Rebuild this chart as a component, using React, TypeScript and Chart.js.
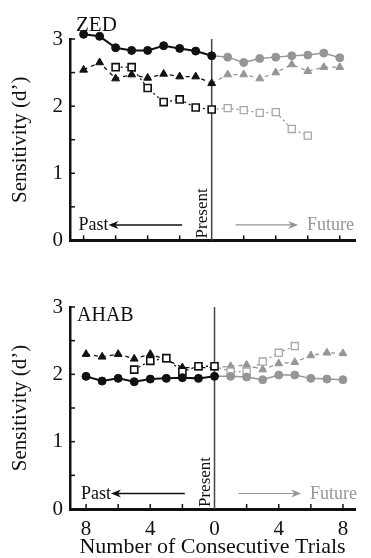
import React, { useEffect, useRef } from "react";
import { Chart, registerables } from "chart.js";
Chart.register(...registerables);

const FONT = "Liberation Serif";
Chart.defaults.font.family = FONT;
const INK = "#111";
const GRAY = "#969696";

const xPast = [-8, -7, -6, -5, -4, -3, -2, -1, 0];
const xFuture = [1, 2, 3, 4, 5, 6, 7, 8];
const xTickLabels = [-8, -4, 0, 4, 8];
const yTickLabels = [0, 1, 2, 3];

// ZED
const zedCirclePast = [3.07, 3.04, 2.87, 2.83, 2.83, 2.9, 2.86, 2.82, 2.75];
const zedCircleFuture = [2.73, 2.65, 2.71, 2.73, 2.75, 2.76, 2.79, 2.72];
const zedTrianglePast = [2.54, 2.65, 2.41, 2.47, 2.42, 2.48, 2.44, 2.44, 2.34];
const zedTriangleFuture = [2.47, 2.47, 2.41, 2.5, 2.62, 2.52, 2.58, 2.58];
const zedSquarePast = [null, null, 2.58, 2.58, 2.27, 2.06, 2.1, 1.98, 1.95];
const zedSquareFuture = [1.97, 1.94, 1.9, 1.91, 1.66, 1.56, null, null];

// AHAB
const ahabCirclePast = [1.97, 1.9, 1.94, 1.89, 1.93, 1.94, 1.95, 1.94, 1.97];
const ahabCircleFuture = [1.97, 1.96, 1.92, 1.99, 1.99, 1.94, 1.93, 1.92];
const ahabTrianglePast = [2.3, 2.26, 2.3, 2.23, 2.3, 2.22, 2.1, 2.1, 2.1];
const ahabTriangleFuture = [2.12, 2.14, 2.07, 2.16, 2.18, 2.28, 2.32, 2.31];
const ahabSquarePast = [null, null, null, 2.07, 2.2, 2.24, 2.04, 2.12, 2.12];
const ahabSquareFuture = [2.04, 2.04, 2.19, 2.32, 2.42, null, null, null];

type V = (number | null)[];

function xy(xs: number[], ys: V) {
  const out: { x: number; y: number }[] = [];
  xs.forEach((x, i) => {
    const y = ys[i];
    if (y !== null && y !== undefined) out.push({ x, y });
  });
  return out;
}

function lastOf(ys: V) {
  for (let i = ys.length - 1; i >= 0; i--) if (ys[i] != null) return ys[i] as number;
  return 0;
}

function series(past: V, future: V, style: "circle" | "triangle" | "rect") {
  const base: any = {
    circle: { pointStyle: "circle", radius: 4, dash: [], width: 2 },
    triangle: { pointStyle: "triangle", radius: 4.5, dash: [4, 4], width: 1.3 },
    rect: { pointStyle: "rect", radius: 5, dash: [2, 3], width: 1.3 },
  }[style];
  const open = style === "rect";
  const ord = style === "circle" ? 0 : style === "triangle" ? 2 : 1;
  const pastDs = {
    data: xy(xPast, past),
    borderColor: INK,
    backgroundColor: open ? "#fff" : INK,
    pointBorderColor: INK,
    pointBackgroundColor: open ? "#fff" : INK,
    pointStyle: base.pointStyle,
    pointRadius: base.radius,
    pointBorderWidth: open ? 1.6 : 1,
    borderWidth: base.width,
    borderDash: base.dash,
    clip: false,
    order: ord,
  };
  const futureDs = {
    data: [{ x: 0, y: lastOf(past) }, ...xy(xFuture, future)],
    borderColor: GRAY,
    backgroundColor: open ? "#fff" : GRAY,
    pointBorderColor: open ? "#a8a8a8" : GRAY,
    pointBackgroundColor: open ? "#fff" : GRAY,
    pointStyle: base.pointStyle,
    pointRadius: (c: any) => (c.dataIndex === 0 ? 0 : base.radius),
    pointBorderWidth: open ? 1.3 : 1,
    borderWidth: style === "circle" ? 1.5 : base.width,
    borderDash: base.dash,
    clip: false,
    order: ord + 3,
  };
  return [futureDs, pastDs];
}

function drawArrow(ctx: CanvasRenderingContext2D, x1: number, x2: number, y: number, color: string, left: boolean) {
  ctx.save();
  ctx.strokeStyle = color;
  ctx.fillStyle = color;
  ctx.lineWidth = left ? 1.6 : 1.2;
  const tip = left ? x1 : x2;
  const dir = left ? 1 : -1;
  ctx.beginPath();
  ctx.moveTo(left ? x1 + 4 : x1, y);
  ctx.lineTo(left ? x2 : x2 - 4, y);
  ctx.stroke();
  ctx.beginPath();
  ctx.moveTo(tip, y);
  ctx.lineTo(tip + dir * 10, y - 4);
  ctx.lineTo(tip + dir * 7, y);
  ctx.lineTo(tip + dir * 10, y + 4);
  ctx.closePath();
  ctx.fill();
  ctx.restore();
}

function decorations(label: string, labelSize: number, labelAbove: boolean) {
  return {
    id: "decor",
    beforeDatasetsDraw(chart: any) {
      const { ctx } = chart;
      const xs = chart.scales.x;
      const ys = chart.scales.y;
      const px = xs.getPixelForValue(0);
      ctx.save();
      ctx.strokeStyle = "#444";
      ctx.lineWidth = 1.5;
      ctx.beginPath();
      ctx.moveTo(px, ys.getPixelForValue(3));
      ctx.lineTo(px, ys.getPixelForValue(0));
      ctx.stroke();
      ctx.restore();
    },
    afterDraw(chart: any) {
      const { ctx, chartArea } = chart;
      const xs = chart.scales.x;
      const ys = chart.scales.y;
      const y0 = ys.getPixelForValue(0);
      const xl = chartArea.left;
      ctx.save();
      ctx.strokeStyle = INK;
      ctx.lineWidth = 1.5;
      [0.5, 1, 1.5, 2, 2.5, 3].forEach((v) => {
        const p = ys.getPixelForValue(v);
        ctx.beginPath();
        ctx.moveTo(xl, p);
        ctx.lineTo(xl + 5, p);
        ctx.stroke();
      });
      [-8, -6, -4, -2, 2, 4, 6, 8].forEach((v) => {
        const p = xs.getPixelForValue(v);
        ctx.beginPath();
        ctx.moveTo(p, y0);
        ctx.lineTo(p, y0 - 5);
        ctx.stroke();
      });
      ctx.fillStyle = INK;
      ctx.font = `${labelSize}px ${FONT}`;
      ctx.textAlign = "left";
      ctx.textBaseline = "alphabetic";
      if (labelAbove) ctx.fillText(label, xl + 6, chartArea.top - 8);
      else ctx.fillText(label, xl + 7, chartArea.top + 14);
      const ay = ys.getPixelForValue(0.23);
      const ty = ys.getPixelForValue(0.15);
      ctx.font = `18px ${FONT}`;
      ctx.textAlign = "right";
      ctx.fillStyle = INK;
      const pastEnd = xs.getPixelForValue(-6.45);
      ctx.fillText("Past", pastEnd, ty);
      drawArrow(ctx, pastEnd, xs.getPixelForValue(-1.85), ay, INK, true);
      drawArrow(ctx, xs.getPixelForValue(1.5), xs.getPixelForValue(5.4), ay, GRAY, false);
      ctx.textAlign = "left";
      ctx.fillStyle = GRAY;
      ctx.fillText("Future", xs.getPixelForValue(5.95), ty);
      ctx.save();
      ctx.translate(xs.getPixelForValue(0) - 5, y0 - 2);
      ctx.rotate(-Math.PI / 2);
      ctx.font = `17px ${FONT}`;
      ctx.fillStyle = INK;
      ctx.textAlign = "left";
      ctx.textBaseline = "alphabetic";
      ctx.fillText("Present", 0, 0);
      ctx.restore();
      ctx.restore();
    },
  };
}

type Panel = {
  label: string;
  labelSize: number;
  labelAbove: boolean;
  circlePast: V;
  circleFuture: V;
  trianglePast: V;
  triangleFuture: V;
  squarePast: V;
  squareFuture: V;
  xMin: number;
  xMax: number;
  showX: boolean;
  height: number;
  padTop: number;
  xAxisH: number;
};

function PanelChart({ p }: { p: Panel }) {
  const ref = useRef<HTMLCanvasElement | null>(null);
  useEffect(() => {
    if (!ref.current) return;
    const datasets = [
      ...series(p.squarePast, p.squareFuture, "rect"),
      ...series(p.trianglePast, p.triangleFuture, "triangle"),
      ...series(p.circlePast, p.circleFuture, "circle"),
    ];
    const chart = new Chart(ref.current, {
      type: "line",
      data: { datasets: datasets as any },
      options: {
        responsive: false,
        animation: false,
        events: [],
        layout: { padding: { top: p.padTop, right: 16, left: 0, bottom: 0 } },
        plugins: { legend: { display: false }, tooltip: { enabled: false } },
        scales: {
          x: {
            type: "linear",
            min: p.xMin,
            max: p.xMax,
            afterFit: (s: any) => {
              s.height = p.xAxisH;
            },
            afterBuildTicks: (s: any) => {
              s.ticks = xTickLabels.map((v) => ({ value: v }));
            },
            grid: { display: false, drawTicks: false },
            border: { display: true, color: INK, width: 3 },
            ticks: {
              display: p.showX,
              autoSkip: false,
              maxRotation: 0,
              padding: 8,
              color: INK,
              font: { family: FONT, size: 21 },
              callback: (v: any) => String(Math.abs(Number(v))),
            },
            title: {
              display: p.showX,
              text: "Number of Consecutive Trials",
              color: INK,
              font: { family: FONT, size: 22, lineHeight: 1 },
              padding: { top: 0, bottom: 0 },
            },
          },
          y: {
            min: 0,
            max: 3,
            afterFit: (s: any) => {
              s.width = 70;
            },
            afterBuildTicks: (s: any) => {
              s.ticks = yTickLabels.map((v) => ({ value: v }));
            },
            grid: { display: false, drawTicks: false },
            border: { display: true, color: INK, width: 2.5 },
            ticks: {
              padding: 7,
              color: INK,
              font: { family: FONT, size: 21 },
            },
            title: {
              display: true,
              text: "Sensitivity (d\u2019)",
              color: INK,
              font: { family: FONT, size: 21, lineHeight: 1 },
              padding: { top: 9.5, bottom: 0 },
            },
          },
        },
      } as any,
      plugins: [decorations(p.label, p.labelSize, p.labelAbove) as any],
    });
    return () => chart.destroy();
  }, [p]);
  return <canvas ref={ref} width={371} height={p.height} style={{ display: "block" }} />;
}

const zedPanel: Panel = {
  label: "ZED",
  labelSize: 21,
  labelAbove: true,
  circlePast: zedCirclePast,
  circleFuture: zedCircleFuture,
  trianglePast: zedTrianglePast,
  triangleFuture: zedTriangleFuture,
  squarePast: zedSquarePast,
  squareFuture: zedSquareFuture,
  xMin: -8.85,
  xMax: 8.95,
  showX: false,
  height: 260,
  padTop: 39,
  xAxisH: 18,
};

const ahabPanel: Panel = {
  label: "AHAB",
  labelSize: 20,
  labelAbove: false,
  circlePast: ahabCirclePast,
  circleFuture: ahabCircleFuture,
  trianglePast: ahabTrianglePast,
  triangleFuture: ahabTriangleFuture,
  squarePast: ahabSquarePast,
  squareFuture: ahabSquareFuture,
  xMin: -9.0,
  xMax: 8.75,
  showX: true,
  height: 298,
  padTop: 47,
  xAxisH: 49,
};

export default function App() {
  return (
    <div
      style={{
        position: "fixed",
        left: 0,
        top: 0,
        width: 371,
        height: 558,
        background: "#fff",
        overflow: "hidden",
      }}
    >
      <PanelChart p={zedPanel} />
      <PanelChart p={ahabPanel} />
    </div>
  );
}
